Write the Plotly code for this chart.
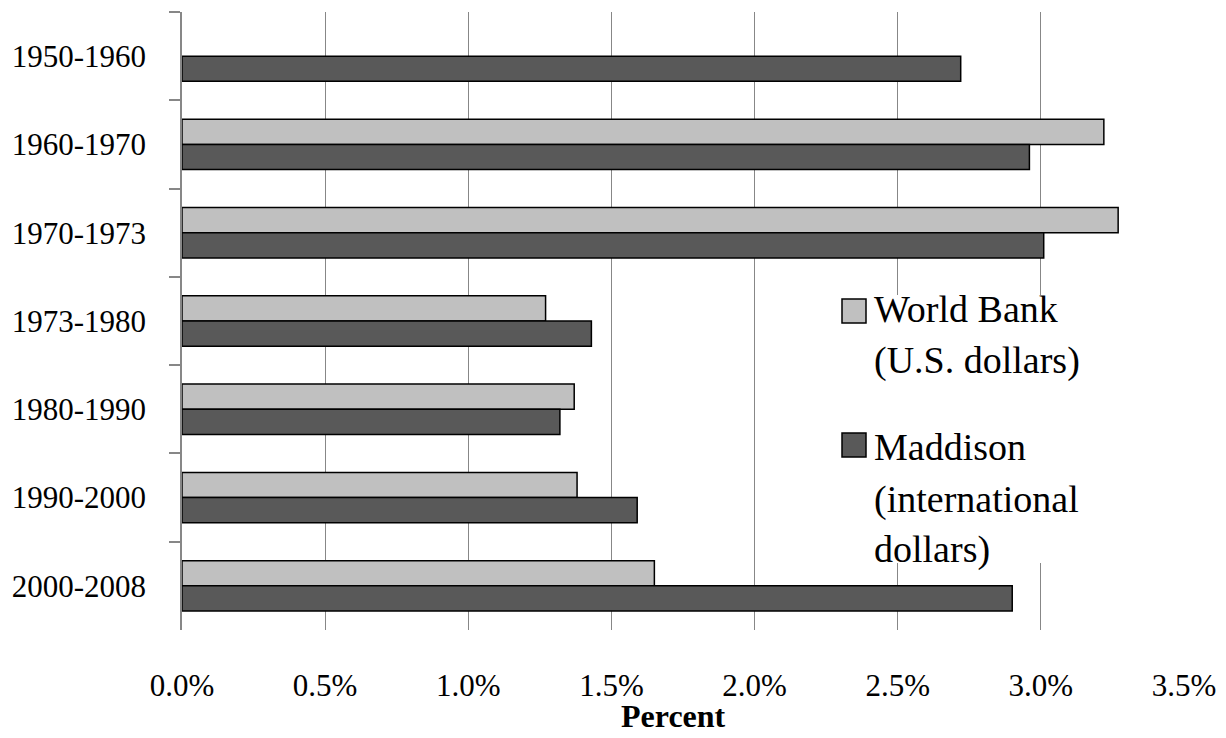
import plotly.graph_objects as go

# ---- data ----
periods = ["1950-1960", "1960-1970", "1970-1973", "1973-1980",
           "1980-1990", "1990-2000", "2000-2008"]
world_bank = [None, 3.22, 3.27, 1.27, 1.37, 1.38, 1.65]
maddison = [2.72, 2.96, 3.01, 1.43, 1.32, 1.59, 2.90]
x_ticks = [0.0, 0.5, 1.0, 1.5, 2.0, 2.5, 3.0, 3.5]
wb_label = ["World Bank", "(U.S. dollars)"]
md_label = ["Maddison", "(international", "dollars)"]
x_title = "Percent"

WB_COLOR = "#c0c0c0"
MD_COLOR = "#595959"
GRID = "#878787"
SERIF = "Liberation Serif, Times New Roman, serif"

W, H = 1226, 738
L, R, T, B = 182, 42, 12, 108
PW, PH = W - L - R, H - T - B


def px_x(px):
    return (px - L) / PW


def px_y(py):
    return (H - B - py) / PH


fig = go.Figure()
fig.add_trace(go.Bar(
    y=periods, x=world_bank, orientation="h", name="World Bank (U.S. dollars)",
    marker=dict(color=WB_COLOR, line=dict(color="black", width=1.5)),
    showlegend=False, hoverinfo="x+y"))
fig.add_trace(go.Bar(
    y=periods, x=maddison, orientation="h", name="Maddison (international dollars)",
    marker=dict(color=MD_COLOR, line=dict(color="black", width=1.5)),
    showlegend=False, hoverinfo="x+y"))

shapes = []
annotations = []
# legend background (hides gridlines)
shapes.append(dict(type="rect", xref="paper", yref="paper",
                   x0=px_x(832), x1=px_x(1112), y0=px_y(563), y1=px_y(295),
                   fillcolor="white", line=dict(width=0), layer="above"))

entries = [(WB_COLOR, wb_label, 299, [322, 373]),
           (MD_COLOR, md_label, 433, [460, 512, 562])]
for color, lines, sq_top, baselines in entries:
    shapes.append(dict(type="rect", xref="paper", yref="paper",
                       x0=px_x(842), x1=px_x(866),
                       y0=px_y(sq_top + 24), y1=px_y(sq_top),
                       fillcolor=color, line=dict(color="black", width=1.5),
                       layer="above"))
    for txt, bl in zip(lines, baselines):
        annotations.append(dict(xref="paper", yref="paper",
                                x=px_x(872), y=px_y(bl - 13),
                                xanchor="left", yanchor="middle",
                                text=txt, showarrow=False, align="left",
                                font=dict(family=SERIF, size=38, color="black")))

# axis title
annotations.append(dict(xref="paper", yref="paper",
                        x=px_x(673), y=px_y(716),
                        xanchor="center", yanchor="middle", borderpad=0,
                        text=f"<b>{x_title}</b>", showarrow=False,
                        font=dict(family=SERIF, size=32, color="black")))

fig.update_layout(
    width=W, height=H,
    margin=dict(l=L, r=R, t=T, b=B, pad=0),
    paper_bgcolor="white", plot_bgcolor="white",
    barmode="group", bargap=0.43, bargroupgap=0,
    showlegend=False,
    font=dict(family=SERIF, color="black"),
    shapes=shapes, annotations=annotations,
    xaxis=dict(range=[0, 3.5], tickvals=x_ticks,
               ticktext=[f"{v:.1f}%" for v in x_ticks],
               showgrid=True, gridcolor=GRID, gridwidth=1.3,
               zeroline=False, showline=False, ticks="",
               tickfont=dict(family=SERIF, size=31, color="black"),
               ticklabelstandoff=34, automargin=False),
    yaxis=dict(type="category", categoryorder="array", categoryarray=periods,
               autorange="reversed", showgrid=False, zeroline=False,
               showline=True, linecolor=GRID, linewidth=1.5,
               ticks="outside", ticklen=11, tickcolor=GRID, tickwidth=1.5,
               tickson="boundaries",
               tickfont=dict(family=SERIF, size=31, color="black"),
               ticklabelstandoff=28, automargin=False),
)

fig.write_html("out.html")
